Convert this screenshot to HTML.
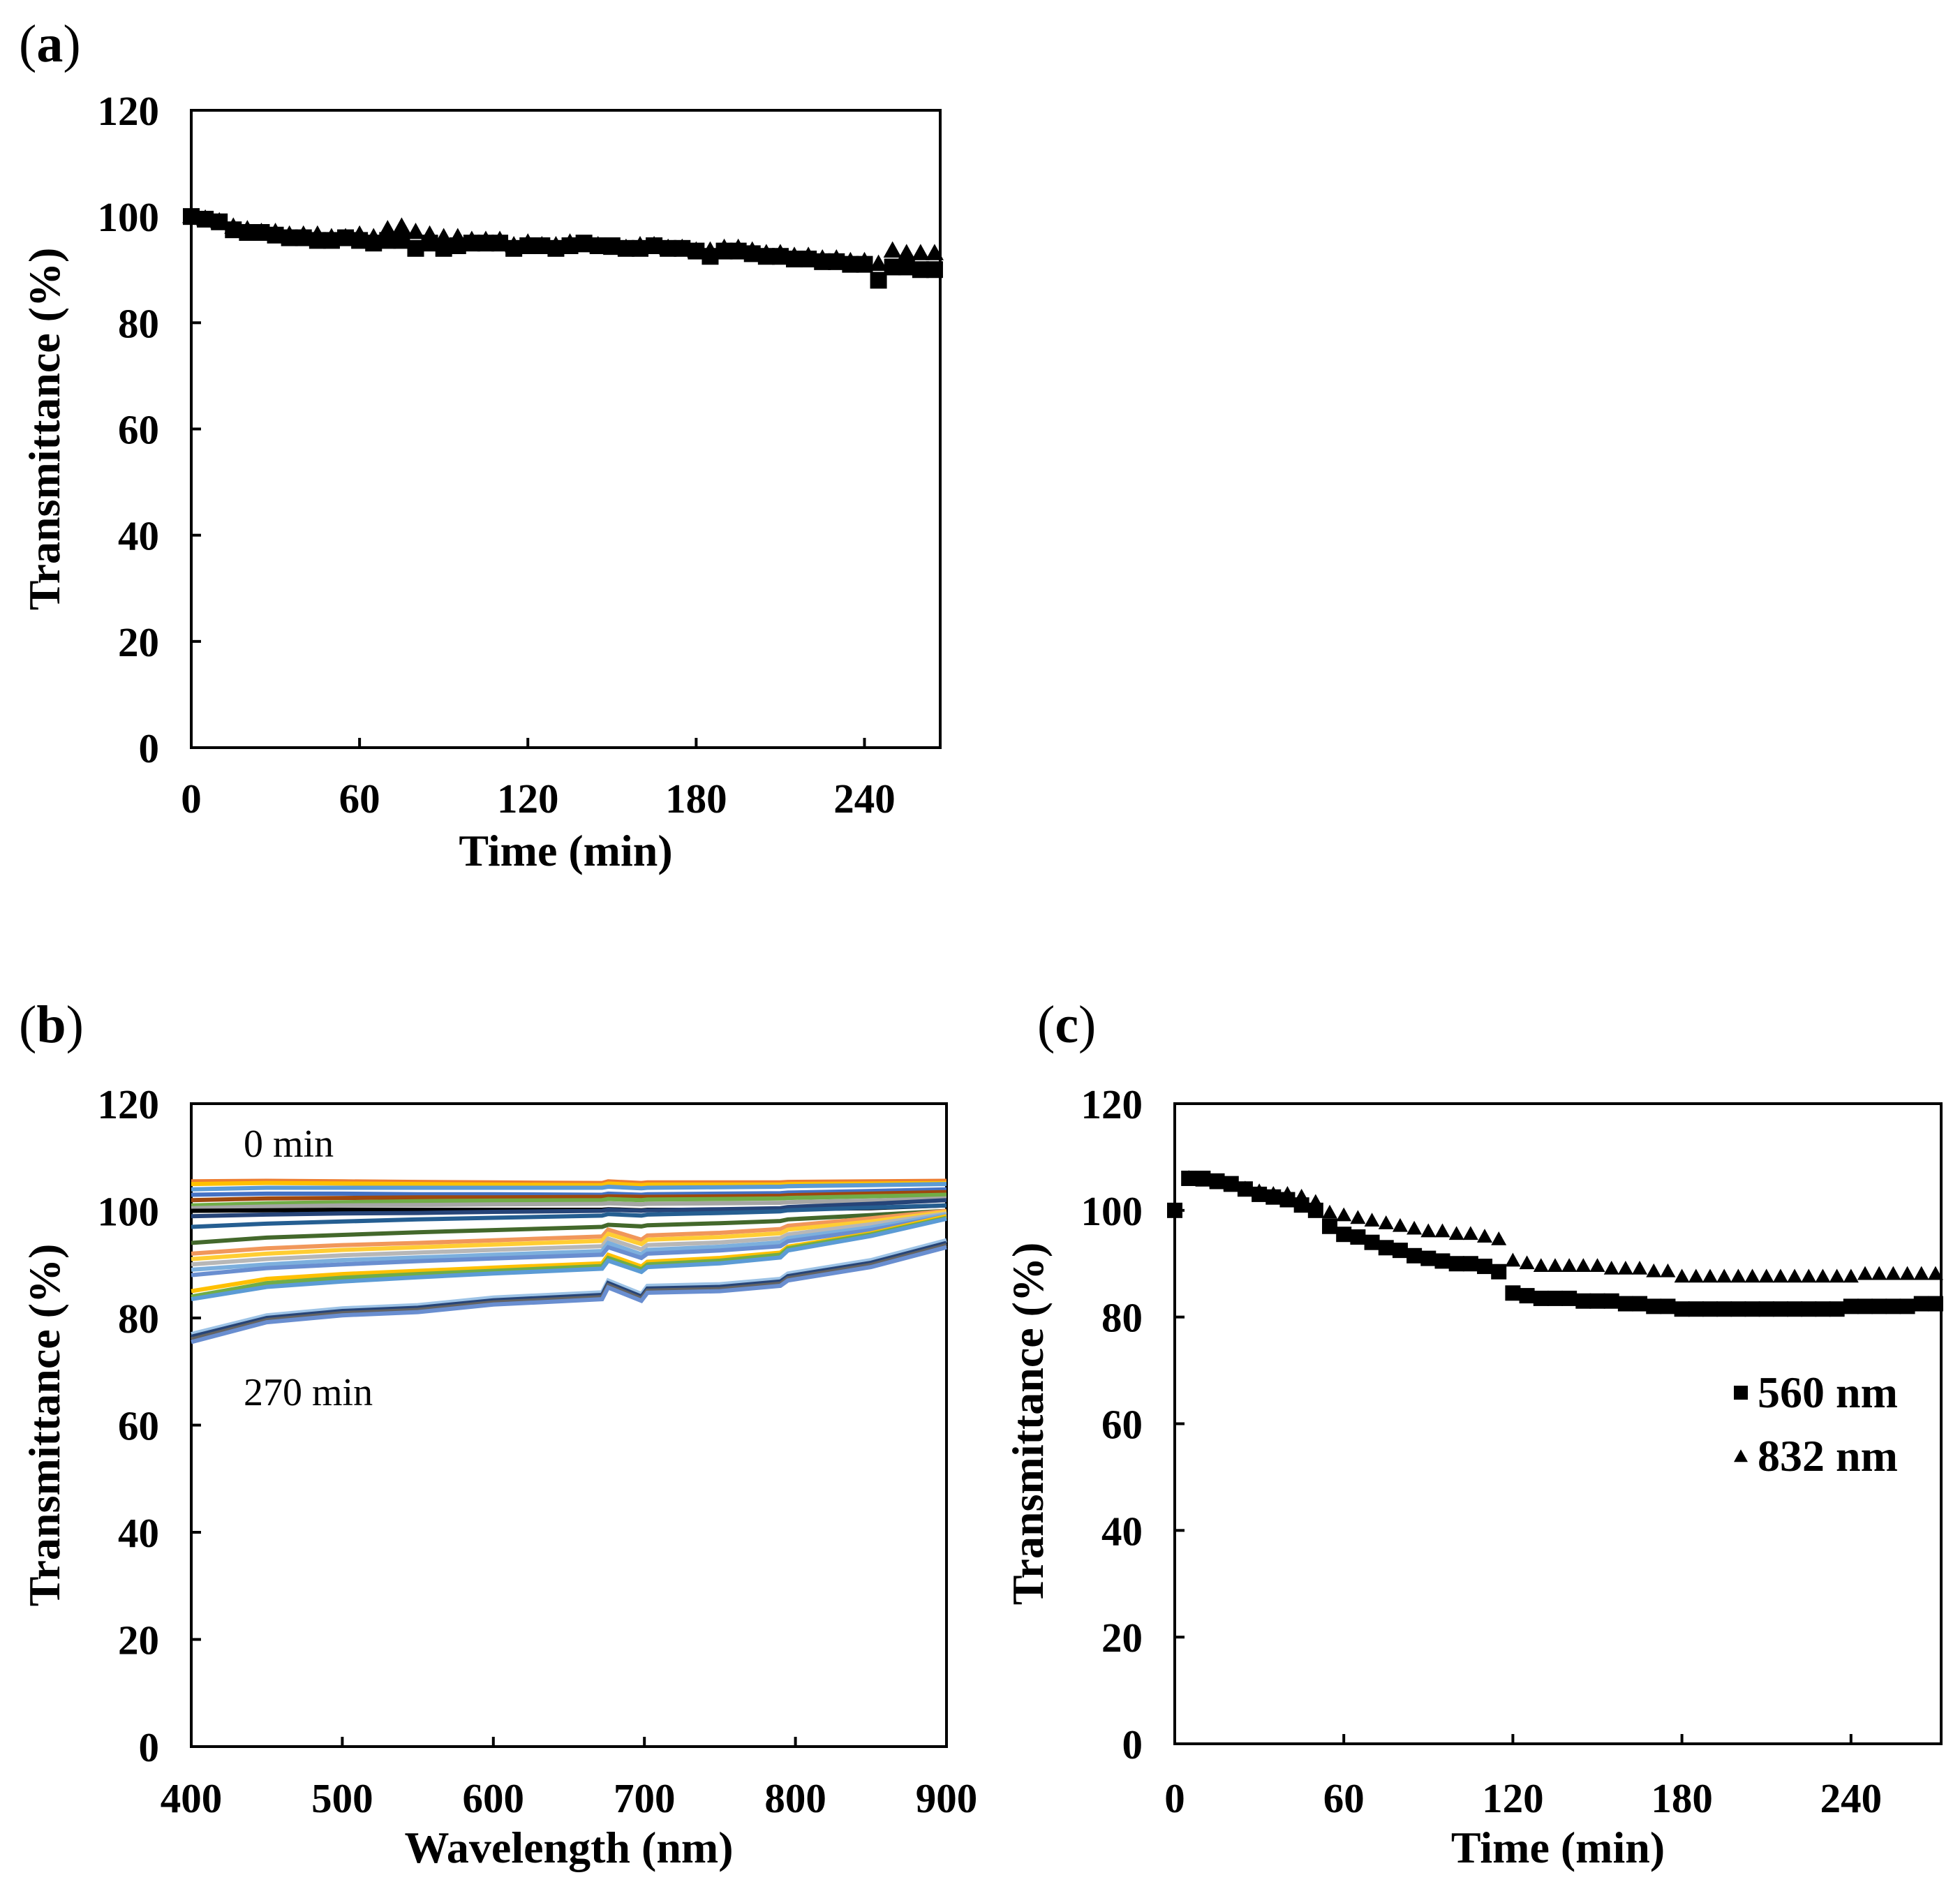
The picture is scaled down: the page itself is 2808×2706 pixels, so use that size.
<!DOCTYPE html>
<html><head><meta charset="utf-8">
<style>
html,body{margin:0;padding:0;background:#fff;}
svg{display:block;}
text{font-family:"Liberation Serif",serif;fill:#000;}
.tk{font-size:59px;font-weight:bold;}
.ttl{font-size:64px;font-weight:bold;}
.pl{font-size:76px;}
</style></head>
<body>
<svg id="fig" width="2808" height="2706" viewBox="0 0 2808 2706" xmlns="http://www.w3.org/2000/svg">
<text class="pl" x="27" y="88">(<tspan font-weight="bold">a</tspan>)</text>
<text class="pl" x="27" y="1493">(<tspan font-weight="bold">b</tspan>)</text>
<text class="pl" x="1486" y="1493">(<tspan font-weight="bold">c</tspan>)</text>
<g id="pa"></g>
<g id="pb"></g>
<g id="pc"></g>
</svg>
<script>
// ---------- Panel (a) data ----------
const aTimes = [0,5,10,15,20,25,30,35,40,45,50,55,60,65,70,75,80,85,90,95,100,105,110,115,120,125,130,135,140,145,150,155,160,165,170,175,180,185,190,195,200,205,210,215,220,225,230,235,240,245,250,255,260,265];
const aSquares = [100,99.5,99,97.5,97,97,96.5,96,96,95.5,95.5,96,95.5,95,95.5,95.5,94,95,94,94.5,95,95,95,94,94.5,94.5,94,94.5,95,94.5,94.5,94,94,94.5,94,94,93.5,92.5,93.5,93.5,93,92.5,92.5,92,92,91.5,91.5,91,91,88,90.5,90.5,90,90];
const aTriangles = [100,99.5,99,98,97.5,97,97,96.5,96.5,96.5,96,96,96.5,96,97.5,98,97,96.5,96,96,95.5,95.5,95.5,94.5,95,94.5,94.5,95,94.5,94.5,94,94,94.5,94.5,94,94,93.5,93.5,94,94,93.5,93,93,92.5,92.5,92,92,91.5,91.5,91,93.5,93,93,93];
const aXTicks = [0,60,120,180,240];
const aYTicks = [0,20,40,60,80,100,120];

// ---------- Panel (b) data ----------
const bWave = [400,450,500,550,600,672,676,698,702,750,790,795,850,900];
const bCurves = [
 [105.5,105.6,105.5,105.4,105.3,105.2,105.5,105.2,105.3,105.3,105.3,105.4,105.5,105.6],
 [105,105.2,105.1,105,104.9,104.8,105.1,104.8,104.9,104.9,104.9,105,105.1,105.2],
 [104,104.3,104.3,104.3,104.3,104.3,104.5,104.2,104.3,104.4,104.5,104.6,104.8,105],
 [103,103.2,103.2,103.1,103.1,103,103.2,103,103.1,103.2,103.3,103.4,103.7,104],
 [102,102.3,102.4,102.5,102.5,102.6,102.7,102.6,102.6,102.7,102.8,102.9,103.2,103.5],
 [101,101.4,101.6,101.8,101.9,102,102.2,102,102.1,102.2,102.3,102.4,102.7,103],
 [100.5,100.8,101,101.1,101.2,101.3,101.4,101.2,101.3,101.4,101.5,101.6,101.9,102.3],
 [100,100.1,100.2,100.2,100.2,100.2,100.3,100.1,100.2,100.2,100.2,100.3,100.5,101],
 [99,99.3,99.5,99.6,99.8,100,100.2,100,100.1,100.3,100.5,100.7,101.3,102],
 [97,97.6,98,98.4,98.7,99.1,99.4,99.1,99.3,99.6,99.9,100.1,100.6,101],
 [94,95,95.5,96,96.4,97,97.4,97.1,97.3,97.7,98.1,98.4,99.2,100],
 [92,93,93.6,94,94.5,95.2,96.5,94.6,95.4,95.9,96.6,97.2,98.6,100],
 [91,92,92.7,93.2,93.7,94.4,95.7,93.8,94.6,95.1,95.8,96.5,98,99.8],
 [90,91,91.7,92.2,92.7,93.4,94.8,92.8,93.6,94.1,94.9,95.6,97.5,99.5],
 [89,90,90.8,91.3,91.8,92.5,94,91.9,92.7,93.3,94.1,94.9,96.9,99.3],
 [88,89.3,90,90.6,91.1,91.8,93.2,91.2,92,92.6,93.4,94.3,96.4,99],
 [85,87.3,88.2,88.8,89.4,90.2,91.8,89.6,90.5,91.2,92.2,93.3,95.8,99],
 [84,86.5,87.5,88.2,88.8,89.7,91.2,89.1,90,90.7,91.8,93,95.6,98.7],
 [83.5,85.8,86.8,87.6,88.3,89.2,90.7,88.6,89.5,90.2,91.3,92.6,95.3,98.5],
 [77,80.5,81.8,82.4,83.8,84.8,87,84.5,86,86.3,87.3,88.3,90.8,94.5],
 [76.5,80,81.3,81.9,83.3,84.3,86.5,84,85.5,85.8,86.8,87.8,90.3,94],
 [76,79.6,80.9,81.5,82.9,83.9,86.1,83.6,85.1,85.4,86.4,87.4,89.9,93.6],
 [75.5,79.2,80.5,81.1,82.5,83.5,85.7,83.2,84.7,85,86,87,89.5,93.2]
];
const bColors = ["#ED7D31","#FFC000","#5B9BD5","#4472C4","#9E480E","#70AD47","#A5A5A5","#000000","#264478","#255E91","#43682B","#F1975A","#FFCD33","#B7B7B7","#7CAFDD","#698ED0","#FFC000","#70AD47","#5B9BD5","#9DC3E6","#264478","#636363","#698ED0"];
const bXTicks = [400,500,600,700,800,900];
const bYTicks = [0,20,40,60,80,100,120];

// ---------- Panel (c) data ----------
const cSqTimes = [0,5,10,15,20,25,30,35,40,45,50,55,60,65,70,75,80,85,90,95,100,105,110,115,120,125,130,135,140,145,150,155,160,165,170,175,180,185,190,195,200,205,210,215,220,225,230,235,240,245,250,255,260,265,270];
const cSq = [100,106,106,105.5,105,104,103,102.5,102,101,100,97,95.5,95,94,93,92.5,91.5,91,90.5,90,90,89.5,88.5,84.5,84,83.5,83.5,83.5,83,83,83,82.5,82.5,82,82,81.5,81.5,81.5,81.5,81.5,81.5,81.5,81.5,81.5,81.5,81.5,81.5,82,82,82,82,82,82.5,82.5];
const cTrTimes = [5,10,15,20,25,30,35,40,45,50,55,60,65,70,75,80,85,90,95,100,105,110,115,120,125,130,135,140,145,150,155,160,165,170,175,180,185,190,195,200,205,210,215,220,225,230,235,240,245,250,255,260,265,270];
const cTr = [106,105.5,105,104.5,104,103.5,103,103,102.5,101.5,99.5,99,98.5,98,97.5,97,96.5,96,96,95.5,95.5,95,94.5,90.5,90,89.5,89.5,89.5,89.5,89.5,89,89,89,88.5,88.5,87.5,87.5,87.5,87.5,87.5,87.5,87.5,87.5,87.5,87.5,87.5,87.5,87.5,88,88,88,88,88,88];
const cXTicks = [0,60,120,180,240];
const cYTicks = [0,20,40,60,80,100,120];

const NS = "http://www.w3.org/2000/svg";
function mk(tag, attrs, parent, txt){
  const e = document.createElementNS(NS, tag);
  for (const k in attrs) e.setAttribute(k, attrs[k]);
  if (txt !== undefined) e.textContent = txt;
  parent.appendChild(e);
  return e;
}
function axes(g, box, xmin, xmax, ymin, ymax, xt, yt, xtitle, ytitleX, xtickY, xtitleY, prefix){
  const sx = v => box.l + (v - xmin) / (xmax - xmin) * (box.r - box.l);
  const sy = v => box.b - (v - ymin) / (ymax - ymin) * (box.b - box.t);
  const fr = mk('rect', {x:box.l, y:box.t, width:box.r-box.l, height:box.b-box.t, fill:'none', stroke:'#000', 'stroke-width':4}, g);
  
  
  xt.forEach(v => {
    const tl = mk('line', {x1:sx(v), x2:sx(v), y1:box.b, y2:box.b-14, stroke:'#000', 'stroke-width':4}, g);
    
    
    const t = mk('text', {x:sx(v), y:xtickY, 'text-anchor':'middle', class:'tk'}, g, String(v));
    
    
  });
  yt.forEach(v => {
    const tl = mk('line', {x1:box.l, x2:box.l+14, y1:sy(v), y2:sy(v), stroke:'#000', 'stroke-width':4}, g);
    
    
    const t = mk('text', {x:box.l-46, y:sy(v)+21, 'text-anchor':'end', class:'tk'}, g, String(v));
    
    
  });
  const xtl = mk('text', {x:(box.l+box.r)/2, y:xtitleY, 'text-anchor':'middle', class:'ttl'}, g, xtitle);
  
  
  const cy = (box.t+box.b)/2;
  const ytl = mk('text', {x:ytitleX, y:cy, 'text-anchor':'middle', class:'ttl', transform:`rotate(-90 ${ytitleX} ${cy})`, dy:'22'}, g, 'Transmittance (%)');
  
  
  return {sx, sy};
}
function square(g, x, y, s, name){
  const r = mk('rect', {x:x-s/2, y:y-s/2, width:s, height:s, fill:'#000'}, g);
  
  
}
function tri(g, x, y, s, name){
  const h = s*0.9;
  const p = mk('polygon', {points:`${x},${y-h*0.6} ${x-s/2},${y+h*0.4} ${x+s/2},${y+h*0.4}`, fill:'#000'}, g);
  
  
}

// Panel a
(function(){
  const g = document.getElementById('pa');
  const box = {l:274, r:1347, t:158, b:1071};
  const {sx, sy} = axes(g, box, 0, 267, 0, 120, aXTicks, aYTicks, 'Time (min)', 63, 1164, 1240, 'a');
  aTimes.forEach((t,i) => tri(g, sx(t), sy(aTriangles[i]), 26, 'a-triangle-point'));
  aTimes.forEach((t,i) => square(g, sx(t), sy(aSquares[i]), 24, 'a-square-point'));
})();

// Panel b
(function(){
  const g = document.getElementById('pb');
  const box = {l:274, r:1356, t:1581, b:2502};
  const {sx, sy} = axes(g, box, 400, 900, 0, 120, bXTicks, bYTicks, 'Wavelength (nm)', 63, 2596, 2668, 'b');
  bCurves.forEach((c, ci) => {
    const d = c.map((v,i) => (i?'L':'M') + sx(bWave[i]).toFixed(1) + ',' + sy(v).toFixed(1)).join(' ');
    const p = mk('path', {d:d, fill:'none', stroke:bColors[ci % bColors.length], 'stroke-width':6}, g);
    
    
  });
  const t0 = mk('text', {x:349, y:1657, 'font-size':56}, g, '0 min');
  
  
  const t1 = mk('text', {x:349, y:2013, 'font-size':56}, g, '270 min');
  
  
})();

// Panel c
(function(){
  const g = document.getElementById('pc');
  const box = {l:1683, r:2781, t:1581, b:2498};
  const {sx, sy} = axes(g, box, 0, 272, 0, 120, cXTicks, cYTicks, 'Time (min)', 1472, 2596, 2668, 'c');
  cTrTimes.forEach((t,i) => tri(g, sx(t), sy(cTr[i]), 22, 'c-triangle-832nm'));
  cSqTimes.forEach((t,i) => square(g, sx(t), sy(cSq[i]), 22, 'c-square-560nm'));
  const lg = mk('g', {}, g);
  
  
  square(lg, 2494, 1995, 20, 'legend-square-marker');
  const l1 = mk('text', {x:2518, y:2016, class:'ttl', 'font-size':60}, lg, '560 nm');
  
  
  tri(lg, 2494, 2087, 20, 'legend-triangle-marker');
  const l2 = mk('text', {x:2518, y:2107, class:'ttl', 'font-size':60}, lg, '832 nm');
  
  
})();
</script>
</body></html>
